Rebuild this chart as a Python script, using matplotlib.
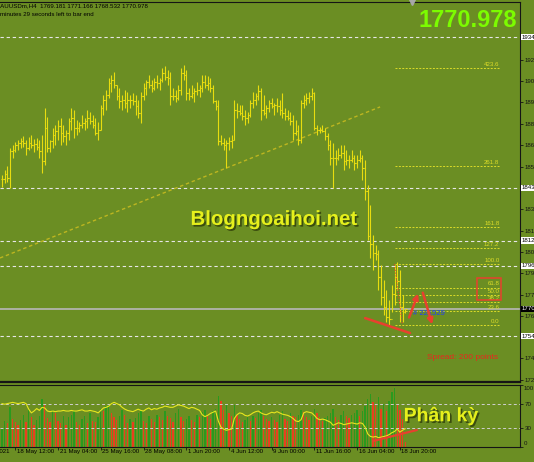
import matplotlib as mpl
mpl.use('Agg')
import matplotlib.pyplot as plt
import matplotlib.patheffects as pe
from matplotlib.patches import Rectangle
import numpy as np

plt.rcParams['font.family'] = ['Liberation Sans', 'DejaVu Sans']

# XAUUSDm H4 bars, index 0..151
hi = [1851.7, 1854.7, 1857.1, 1868.0, 1869.8, 1871.6, 1872.8, 1874.0, 1875.2, 1872.8,
      1874.6, 1875.8, 1873.4, 1874.0, 1872.8, 1875.8, 1892.1, 1886.6, 1872.8, 1880.0,
      1881.8, 1884.8, 1886.0, 1881.8, 1878.8, 1886.0, 1892.1, 1890.9, 1884.8, 1883.6,
      1887.8, 1886.0, 1890.9, 1889.7, 1887.8, 1886.0, 1883.6, 1893.9, 1899.9, 1902.9,
      1910.1, 1911.9, 1913.7, 1905.9, 1904.1, 1899.9, 1902.9, 1901.7, 1899.9, 1901.1,
      1899.9, 1896.9, 1901.7, 1907.1, 1908.9, 1911.9, 1908.9, 1910.1, 1911.9, 1910.1,
      1916.2, 1917.4, 1915.0, 1913.7, 1904.1, 1902.9, 1905.9, 1916.2, 1918.0, 1915.0,
      1904.1, 1905.9, 1904.1, 1907.7, 1905.9, 1911.9, 1911.9, 1911.3, 1910.1, 1905.9,
      1896.9, 1896.9, 1875.8, 1874.0, 1872.8, 1874.6, 1875.8, 1896.9, 1895.1, 1893.9,
      1893.9, 1890.9, 1889.7, 1896.9, 1901.7, 1901.1, 1905.9, 1904.1, 1899.9, 1893.9,
      1896.9, 1898.1, 1895.1, 1898.1, 1896.9, 1901.1, 1892.1, 1890.9, 1889.7, 1887.8,
      1884.8, 1881.8, 1896.9, 1899.9, 1901.1, 1901.7, 1904.1, 1901.7, 1881.8, 1880.6,
      1881.8, 1880.0, 1877.0, 1872.8, 1871.0, 1866.8, 1868.0, 1869.8, 1869.8, 1866.8,
      1863.7, 1866.8, 1863.7, 1863.7, 1866.8, 1863.7, 1860.7, 1845.7, 1833.6, 1815.5,
      1809.5, 1806.5, 1797.5, 1788.4, 1782.4, 1776.4, 1785.4, 1797.5, 1799.3, 1794.5,
      1779.4, 1771.166]
lo = [1844.5, 1846.9, 1847.5, 1843.9, 1861.9, 1865.6, 1866.8, 1868.0, 1868.6, 1863.7,
      1866.8, 1868.0, 1865.6, 1866.8, 1861.9, 1852.9, 1857.7, 1865.6, 1865.6, 1868.0,
      1869.8, 1872.8, 1869.8, 1871.6, 1869.8, 1872.8, 1878.8, 1874.0, 1875.8, 1877.6,
      1880.0, 1878.8, 1880.0, 1882.4, 1880.0, 1875.8, 1872.8, 1878.8, 1887.8, 1890.9,
      1898.1, 1901.7, 1904.1, 1896.9, 1892.1, 1890.9, 1892.1, 1889.7, 1892.1, 1893.9,
      1887.8, 1886.0, 1883.0, 1896.9, 1899.9, 1904.1, 1901.7, 1902.9, 1904.1, 1902.9,
      1907.7, 1908.9, 1905.9, 1893.9, 1896.9, 1895.7, 1896.9, 1899.9, 1908.9, 1896.9,
      1896.9, 1898.1, 1895.7, 1899.9, 1898.7, 1901.7, 1904.1, 1902.9, 1901.7, 1895.1,
      1890.9, 1869.8, 1869.8, 1866.8, 1855.9, 1866.8, 1868.0, 1872.8, 1886.0, 1887.8,
      1884.8, 1881.8, 1883.0, 1886.6, 1892.1, 1893.9, 1896.9, 1884.8, 1887.8, 1886.0,
      1889.7, 1892.1, 1887.8, 1889.7, 1887.8, 1886.0, 1884.8, 1884.8, 1881.8, 1872.8,
      1875.8, 1869.8, 1871.0, 1892.1, 1893.9, 1895.1, 1896.9, 1878.8, 1875.8, 1877.0,
      1877.6, 1872.8, 1866.8, 1857.7, 1843.9, 1857.7, 1860.7, 1861.9, 1854.7, 1857.7,
      1855.9, 1859.5, 1854.7, 1855.9, 1859.5, 1848.7, 1836.6, 1812.5, 1801.7, 1794.5,
      1800.5, 1782.4, 1773.4, 1767.4, 1763.1, 1761.3, 1769.2, 1773.4, 1782.4, 1763.1,
      1763.1, 1768.532]
cl = [1849.5, 1852.0, 1850.0, 1866.0, 1867.0, 1869.5, 1871.0, 1872.0, 1871.0, 1868.0,
      1871.0, 1870.0, 1870.5, 1868.5, 1866.0, 1860.0, 1880.0, 1868.0, 1872.0, 1876.0,
      1878.0, 1881.0, 1877.0, 1875.0, 1877.0, 1884.0, 1886.0, 1880.0, 1880.0, 1882.0,
      1883.0, 1884.0, 1886.0, 1884.0, 1882.0, 1877.0, 1879.0, 1892.0, 1897.0, 1900.0,
      1907.0, 1909.0, 1906.0, 1899.0, 1896.0, 1897.0, 1895.0, 1897.0, 1897.0, 1896.0,
      1893.0, 1889.0, 1899.0, 1904.0, 1908.0, 1906.0, 1904.0, 1908.0, 1907.0, 1909.0,
      1913.0, 1911.0, 1910.0, 1899.0, 1899.0, 1898.0, 1903.0, 1913.0, 1912.0, 1901.0,
      1899.0, 1901.0, 1902.0, 1903.0, 1904.0, 1908.0, 1906.0, 1907.0, 1904.0, 1896.0,
      1893.0, 1872.0, 1871.0, 1870.0, 1871.0, 1872.0, 1873.0, 1891.0, 1890.0, 1889.0,
      1887.0, 1886.0, 1888.0, 1895.0, 1897.0, 1899.0, 1902.0, 1891.0, 1889.0, 1892.0,
      1895.0, 1893.0, 1894.0, 1893.0, 1891.0, 1889.0, 1887.0, 1886.0, 1884.0, 1877.0,
      1878.0, 1873.0, 1895.0, 1897.0, 1898.0, 1899.0, 1901.0, 1880.0, 1879.0, 1879.0,
      1878.0, 1875.0, 1870.0, 1862.0, 1862.0, 1862.0, 1864.0, 1865.0, 1860.0, 1861.0,
      1861.0, 1862.0, 1859.0, 1861.0, 1862.0, 1856.0, 1842.0, 1815.0, 1810.0, 1805.0,
      1804.0, 1790.0, 1778.0, 1772.0, 1766.0, 1765.0, 1780.0, 1790.0, 1788.0, 1772.0,
      1769.181, 1770.978]

rsi = [70, 69, 70, 71, 72, 71, 70, 71, 72, 70,
       61, 55, 58, 62, 59, 64, 63, 58, 57, 58,
       57, 58, 58, 59, 58, 58, 59, 58, 58, 59,
       60, 58, 58, 59, 58, 57, 55, 59, 63, 64,
       66, 70, 72, 70, 68, 64, 61, 59, 58, 57,
       59, 61, 59, 58, 61, 63, 60, 62, 61, 63,
       64, 66, 65, 64, 64, 66, 68, 67, 66, 64,
       62, 64, 63, 61, 59, 52, 49, 51, 54, 56,
       58, 42, 32, 29, 27, 28, 29, 46, 52, 55,
       54, 51, 50, 52, 55, 57, 58, 55, 53, 52,
       54, 56, 55, 57, 55, 53, 52, 51, 49, 46,
       42, 41, 44, 55, 57, 56, 55, 51, 46, 44,
       45, 44, 42, 40, 35, 37, 39, 38, 36, 37,
       38, 39, 38, 37, 39, 38, 32, 21, 17, 16,
       17, 15, 16, 17, 18, 20, 23, 25, 29, 24,
       27, 29.3696]

# tick volume, hundreds
vol = [30, 42, 38, 65, 45, 40, 36, 44, 52, 40,
       62, 48, 35, 44, 50, 78, 70, 46, 40, 60,
       55, 42, 38, 50, 36, 48, 52, 58, 40, 35,
       45, 50, 38, 55, 42, 40, 48, 62, 58, 66,
       70, 55, 48, 44, 50, 60, 52, 38, 45, 40,
       46, 55, 60, 42, 38, 50, 45, 40, 52, 48,
       44, 58, 50, 46, 40, 55, 62, 48, 42, 45,
       50, 44, 40, 52, 48, 56, 60, 50, 45, 58,
       62, 82, 75, 60, 70, 55, 50, 68, 52, 45,
       40, 44, 48, 42, 50, 46, 55, 60, 50, 45,
       42, 48, 44, 40, 52, 58, 45, 42, 55, 50,
       48, 52, 60, 56, 48, 44, 50, 62, 55, 48,
       42, 46, 50, 55, 62, 48, 44, 52, 58, 50,
       46, 52, 55, 60, 50, 58, 66, 78, 85, 72,
       68, 80, 62, 70, 58, 75, 88, 95, 70, 60,
       45, 8]

date_pos = [-11, 5, 21, 37, 53, 69, 85, 101, 117, 133, 149]
date_lbl = ['14 May 2021', '18 May 12:00', '21 May 04:00', '25 May 16:00', '28 May 08:00',
            '1 Jun 20:00', '4 Jun 12:00', '9 Jun 00:00', '11 Jun 16:00', '16 Jun 04:00',
            '18 Jun 20:00']

# price scale labels (those hidden behind the line labels left out)
price_ticks = [1921.1, 1908.2, 1895.4, 1882.5, 1869.7, 1856.8, 1831.1, 1818.2,
               1805.4, 1792.6, 1779.7, 1766.9, 1741.2, 1728.3]
h_levels = [1934.8, 1843.9, 1812.0, 1796.9, 1754.7]
fib_x = [147, 150]
fib_p = [1797.9, 1761.3]
fib_lvls = [0.0, 23.6, 38.2, 50.0, 61.8, 100.0, 127.2, 161.8, 261.8, 423.6]
trend_x = [-0.75, 141.6]
trend_p = [1801.7, 1892.7]
div_x, div_p = [136, 152.8], [1765.5, 1756.5]
arrow_up = [(152.1, 1764.3), (156.2, 1781.8)]
arrow_dn = [(157.3, 1782.4), (161.4, 1760.1)]
rsi_div_x, rsi_div_y = [139, 155.4], [9.7, 27.4]

BG = '#6b8e23'
BAR = '#e8dc10'
FIB = '#dcdc28'
RED = '#e8402e'
EDGE = '#151515'
W, H = 534, 462
fs = 4.4

fig = plt.figure(figsize=(W / 100, H / 100), dpi=100, facecolor=BG)
ax = fig.add_axes([0, 1 - 382 / H, 520 / W, 380 / H], facecolor=BG)
x = np.arange(len(hi))
op = [cl[0]] + cl[:-1]
xmin, xmax = -0.75, 194.0

# horizontal lines, trend line, bid line
for p in h_levels:
    ax.axhline(p, color='#e6e6e6', lw=0.8, ls=(0, (3, 2.5)), zorder=1)
ax.plot(trend_x, trend_p, color='#bdb620', lw=1.0, ls=(0, (2.5, 2)), zorder=1)
ax.axhline(cl[-1], color='#b8b8b8', lw=1.2, zorder=1)

# fibonacci
for lv in fib_lvls:
    p = fib_p[1] + (fib_p[0] - fib_p[1]) * lv / 100
    ax.hlines(p, fib_x[0], 186.5, color=FIB, lw=0.7, linestyles=(0, (2, 1.5)), zorder=1)
    ax.text(186.3, p + 0.7, f'{lv:.1f}', ha='right', va='bottom', fontsize=fs, color=FIB)
ax.plot(fib_x, fib_p, color=RED, lw=0.8, ls=(0, (1, 1.5)), zorder=3)

# OHLC bars
ax.vlines(x, lo, hi, color=BAR, lw=0.8, zorder=2)
ax.hlines(op, x - 0.5, x, color=BAR, lw=0.8, zorder=2)
ax.hlines(cl, x, x + 0.5, color=BAR, lw=0.8, zorder=2)

# annotations
ax.plot(div_x, div_p, color=RED, lw=1.8, solid_capstyle='round', zorder=4)
for a in (arrow_up, arrow_dn):
    ax.annotate('', xy=a[1], xytext=a[0],
                arrowprops=dict(arrowstyle='-|>', color=RED, lw=1.8, mutation_scale=8), zorder=4)
ax.add_patch(Rectangle((177.9, 1776.4), 9.0, 13.2, fill=False, ec=RED, lw=1.1, zorder=4))
ax.text(154, 1768.0, '# 221529', ha='left', va='center', fontsize=5.5, color='#1e3cff')
ax.text(185.8, 1741.5, 'Spread: 200 points', ha='right', va='center', fontsize=6, color='#e8281e')
ax.text(101.7, 1821.6, 'Blogngoaihoi.net', ha='center', va='baseline', fontsize=14.7,
        weight='bold', color='#e6f01c',
        path_effects=[pe.SimplePatchShadow(offset=(1.2, -1.2), shadow_rgbFace='#1a2000', alpha=0.6),
                      pe.Normal()])
ax.plot([153.6], [1955.6], marker='v', color='#a8a8a8', ms=4, clip_on=False, zorder=5)

ax.set_xlim(xmin, xmax)
ax.set_ylim(1727.0, 1955.9)
ax.set_xticks([])
ax.yaxis.tick_right()
ax.set_yticks(price_ticks)
ax.set_yticklabels([f'{p:.2f}' for p in price_ticks])
ax.tick_params(axis='y', direction='out', length=2, width=0.6, colors=EDGE,
               labelsize=fs, pad=1.5)
ax.spines['left'].set_visible(False)
ax.spines['top'].set_color(EDGE)
ax.spines['right'].set_color(EDGE)
ax.spines['bottom'].set_color(EDGE)
ax.spines['bottom'].set_linewidth(1.6)

ytr = ax.get_yaxis_transform()
for p in h_levels:
    ax.text(1 + 2 / 520, p, f'{p:.2f}', transform=ytr, ha='left', va='center', fontsize=fs,
            color='black', clip_on=False, zorder=6,
            bbox=dict(boxstyle='square,pad=0.15', fc='white', ec='none'))
ax.text(1 + 2 / 520, cl[-1], f'{cl[-1]:.2f}', transform=ytr, ha='left', va='center',
        fontsize=fs, color='white', clip_on=False, zorder=6,
        bbox=dict(boxstyle='square,pad=0.15', fc='black', ec='none'))

fig.text(-4 / W, 1 - 6 / H, f'XAUUSDm,H4  {op[-1]:.3f} {hi[-1]:.3f} {lo[-1]:.3f} {cl[-1]:.3f}',
         ha='left', va='center', fontsize=fs, color='black')
fig.text(0.5 / W, 1 - 15 / H, 'minutes 29 seconds left to bar end',
         ha='left', va='center', fontsize=fs, color='black')
fig.text(517 / W, 1 - 27 / H, f'{cl[-1]:.3f}', ha='right', va='baseline', fontsize=17,
         weight='bold', color='#7cfc00')

# volumes + RSI window
rect = [0, 1 - 447 / H, 520 / W, 62 / H]
axv = fig.add_axes(rect, facecolor=BG)
vcol = ['#2a9a1e'] + ['#2a9a1e' if vol[i] > vol[i - 1] else '#e8401e' for i in range(1, len(vol))]
axv.bar(x, vol, width=0.5, color=vcol, zorder=2)
axv.set_xlim(xmin, xmax)
axv.set_ylim(0, 100)
axv.set_xticks([])
axv.set_yticks([])
axv.spines['left'].set_visible(False)
for s in ['top', 'right', 'bottom']:
    axv.spines[s].set_color(EDGE)

axr = fig.add_axes(rect, facecolor='none')
axr.axhline(70, color='#d0d0d0', lw=0.7, ls=(0, (3, 2.5)))
axr.axhline(30, color='#d0d0d0', lw=0.7, ls=(0, (3, 2.5)))
axr.plot(x, rsi, color='#e6e61e', lw=0.8)
axr.plot(rsi_div_x, rsi_div_y, color=RED, lw=1.6, solid_capstyle='round')
axr.text(164.4, 41.5, 'Phân kỳ', ha='center', va='baseline', fontsize=14, weight='bold',
         color='#e6f01c',
         path_effects=[pe.SimplePatchShadow(offset=(1.2, -1.2), shadow_rgbFace='#1a2000', alpha=0.6),
                       pe.Normal()])
axr.set_xlim(xmin, xmax)
axr.set_ylim(0, 100)
axr.yaxis.tick_right()
axr.set_yticks([0, 30, 70, 100])
axr.set_yticklabels(['', '30', '70', ''])
axr.tick_params(axis='y', direction='out', length=2, width=0.6, colors=EDGE, labelsize=fs, pad=1.5)
for s in axr.spines.values():
    s.set_visible(False)
rtr = axr.get_yaxis_transform()
axr.text(1 + 3.5 / 520, 98, '100', transform=rtr, ha='left', va='top', fontsize=fs, color=EDGE)
axr.text(1 + 3.5 / 520, 2, '0', transform=rtr, ha='left', va='bottom', fontsize=fs, color=EDGE)
axr.text(-13.5 / 520, 94, f'RSI(14) {rsi[-1]:.4f}   Volumes {vol[-1] * 100:.0f}',
         transform=axr.transAxes, ha='left', va='top', fontsize=fs, color='black', clip_on=False)

axr.set_xticks([p for p in date_pos if p >= xmin])
axr.set_xticklabels([])
axr.tick_params(axis='x', direction='out', length=2, width=0.6, colors=EDGE)
xtr = axr.get_xaxis_transform()
for p, t in zip(date_pos, date_lbl):
    axr.text(p + 0.6, -0.04, t, transform=xtr, ha='left', va='top', fontsize=fs,
             color='black', clip_on=False)

fig.savefig('out.png', dpi=100, facecolor=BG)
